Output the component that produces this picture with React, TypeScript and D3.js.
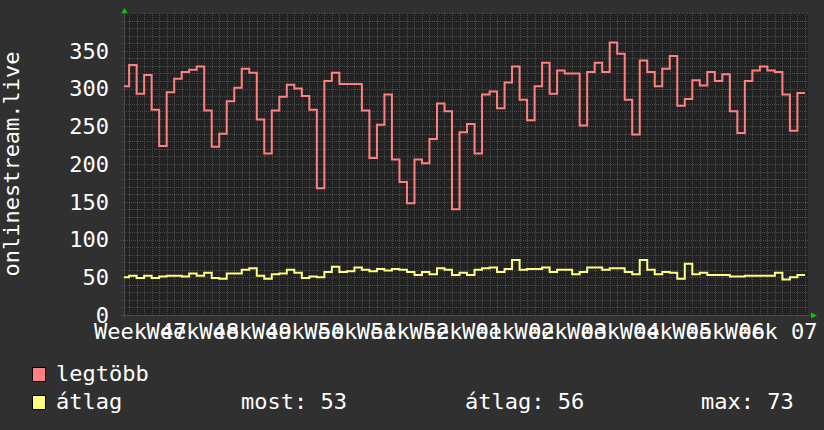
import * as d3 from 'd3';

// rrdtool style weekly graph, daily max + daily average

const WIDTH = 824;
const HEIGHT = 430;
const PLOT = { left: 124, right: 808, top: 13, bottom: 315 };
const FONT = '"DejaVu Sans Mono", monospace';
const FONT_SIZE = 22;

const weekLabels = ['47', '48', '49', '50', '51', '52', '01', '02', '03', '04', '05', '06', '07'];

// one value per day, starting 2023-11-21
const maxSeries = [
    303, 331, 293, 318, 272, 224, 295, 313, 322, 325,
    329, 271, 223, 240, 283, 301, 326, 321, 259, 214,
    271, 289, 305, 300, 290, 272, 168, 310, 321, 306,
    306, 306, 271, 208, 252, 292, 206, 176, 148, 206,
    201, 233, 280, 270, 140, 242, 253, 214, 292, 296,
    274, 308, 329, 285, 258, 303, 334, 293, 324, 320,
    320, 251, 322, 334, 322, 361, 346, 285, 239, 337,
    322, 303, 326, 343, 277, 286, 311, 304, 322, 310,
    319, 270, 241, 310, 324, 329, 324, 322, 292, 244,
    294,
];
const avgSeries = [
    50, 52, 49, 52, 49, 51, 52, 52, 51, 55,
    52, 56, 49, 48, 55, 55, 60, 62, 52, 48,
    54, 55, 60, 56, 49, 51, 50, 57, 64, 57,
    58, 63, 60, 58, 61, 59, 61, 60, 57, 53,
    57, 54, 62, 60, 53, 56, 53, 60, 62, 63,
    57, 61, 73, 60, 61, 61, 63, 57, 60, 60,
    54, 57, 63, 63, 60, 62, 62, 57, 54, 73,
    60, 54, 57, 56, 48, 68, 54, 56, 53, 53,
    53, 51, 51, 52, 52, 52, 52, 56, 47, 50,
    53,
];

const seriesNames = ['legtöbb', 'átlag'];
const seriesColors = ['#ff8080', '#ffff80'];
const statLabels = ['most: 53', 'átlag: 56', 'max: 73'];
const yTicks = [0, 50, 100, 150, 200, 250, 300, 350];

const firstDay = new Date(Date.UTC(2023, 10, 21));
const firstMonday = new Date(Date.UTC(2023, 10, 20));
const viewStart = new Date(Date.UTC(2023, 10, 21, 7, 37));
const viewEnd = new Date(Date.UTC(2024, 1, 20, 9, 50));

const crisp = (v: number) => Math.round(v) + 0.5;

export default function App() {
    const x = d3.scaleUtc().domain([viewStart, viewEnd]).range([PLOT.left, PLOT.right]);
    const y = d3.scaleLinear().domain([0, 400]).range([PLOT.bottom, PLOT.top]);

    const toPoints = (vals: number[]) => {
        const pts: [Date, number][] = vals.map((v, i) => [d3.utcDay.offset(firstDay, i), v]);
        pts.push([d3.utcDay.offset(firstDay, vals.length), vals[vals.length - 1]]);
        return pts;
    };
    const line = d3
        .line<[Date, number]>()
        .x((d) => x(d[0]))
        .y((d) => y(d[1]))
        .curve(d3.curveStepAfter);

    const days = d3.utcDay.range(viewStart, viewEnd);
    const mondays = d3.utcMonday.range(viewStart, viewEnd);
    const minorY = d3.range(0, 401, 10).filter((v) => v % 50 !== 0);
    const majorY = d3.range(0, 401, 50);
    const labelWeeks = d3.utcMonday.range(firstMonday, viewEnd).slice(0, weekLabels.length);

    return (
        <svg width={WIDTH} height={HEIGHT} style={{ display: 'block', position: 'absolute', left: 0, top: 0 }}>
            <rect width={WIDTH} height={HEIGHT} fill="#303030" />
            <rect x={PLOT.left} y={PLOT.top} width={PLOT.right - PLOT.left} height={PLOT.bottom - PLOT.top} fill="#222222" />

            <defs>
                <clipPath id="plot">
                    <rect x={PLOT.left} y={PLOT.top - 2} width={PLOT.right - PLOT.left} height={PLOT.bottom - PLOT.top + 2} />
                </clipPath>
            </defs>

            {/* minor grid */}
            <g stroke="#4c4c4c" strokeWidth={1} strokeDasharray="1,1">
                {days.map((d, i) => (
                    <line key={'dv' + i} x1={crisp(x(d))} x2={crisp(x(d))} y1={PLOT.top} y2={PLOT.bottom + 2} />
                ))}
                {minorY.map((v) => (
                    <line key={'dh' + v} x1={PLOT.left - 2} x2={PLOT.right} y1={crisp(y(v))} y2={crisp(y(v))} />
                ))}
            </g>
            {/* major grid */}
            <g stroke="#753a3a" strokeWidth={1} strokeDasharray="1,1">
                {mondays.map((d, i) => (
                    <line key={'wv' + i} x1={crisp(x(d))} x2={crisp(x(d))} y1={PLOT.top} y2={PLOT.bottom + 3} />
                ))}
                {majorY.map((v) => (
                    <line key={'wh' + v} x1={PLOT.left - 3} x2={PLOT.right} y1={crisp(y(v))} y2={crisp(y(v))} />
                ))}
            </g>

            {/* axes */}
            <line x1={PLOT.left - 3} x2={PLOT.right + 3} y1={crisp(PLOT.bottom)} y2={crisp(PLOT.bottom)} stroke="#4a4a4a" />
            <line x1={crisp(PLOT.left)} x2={crisp(PLOT.left)} y1={PLOT.top - 3} y2={PLOT.bottom + 3} stroke="#4a4a4a" />
            <path d={`M${PLOT.left + 0.5},${PLOT.top - 5} L${PLOT.left - 2.5},${PLOT.top} L${PLOT.left + 3.5},${PLOT.top} Z`} fill="#00cc00" />
            <path d={`M${PLOT.right + 9},${PLOT.bottom + 0.5} L${PLOT.right + 3},${PLOT.bottom - 2.5} L${PLOT.right + 3},${PLOT.bottom + 3.5} Z`} fill="#00cc00" />

            {/* series */}
            <g clipPath="url(#plot)" fill="none" strokeWidth={2} strokeLinejoin="miter">
                <path d={line(toPoints(maxSeries)) ?? ''} stroke={seriesColors[0]} />
                <path d={line(toPoints(avgSeries)) ?? ''} stroke={seriesColors[1]} />
            </g>

            {/* y labels */}
            <g fontFamily={FONT} fontSize={FONT_SIZE} fill="#ffffff" textAnchor="end">
                {yTicks.map((v) => (
                    <text key={v} x={109} y={y(v)} dy="0.36em">
                        {v}
                    </text>
                ))}
            </g>
            <text
                transform={`translate(19,${(PLOT.top + PLOT.bottom) / 2}) rotate(-90)`}
                fontFamily={FONT}
                fontSize={FONT_SIZE}
                fill="#ffffff"
                textAnchor="middle"
            >
                onlinestream.live
            </text>

            {/* x labels, centered in each week */}
            <g fontFamily={FONT} fontSize={FONT_SIZE} fill="#ffffff" textAnchor="middle">
                {labelWeeks.map((d, i) => (
                    <text key={i} x={x(new Date(d.getTime() + 3.5 * 864e5))} y={339}>
                        {'Week ' + weekLabels[i]}
                    </text>
                ))}
            </g>

            {/* legend */}
            <g fontFamily={FONT} fontSize={FONT_SIZE} fill="#ffffff">
                {seriesNames.map((name, i) => (
                    <g key={name}>
                        <rect x={32.5} y={367.5 + i * 28} width={13} height={14} fill={seriesColors[i]} stroke="#000" />
                        <text x={56} y={381 + i * 28}>
                            {name}
                        </text>
                    </g>
                ))}
                <text x={241} y={409}>{statLabels[0]}</text>
                <text x={465} y={409}>{statLabels[1]}</text>
                <text x={701} y={409}>{statLabels[2]}</text>
            </g>
        </svg>
    );
}
